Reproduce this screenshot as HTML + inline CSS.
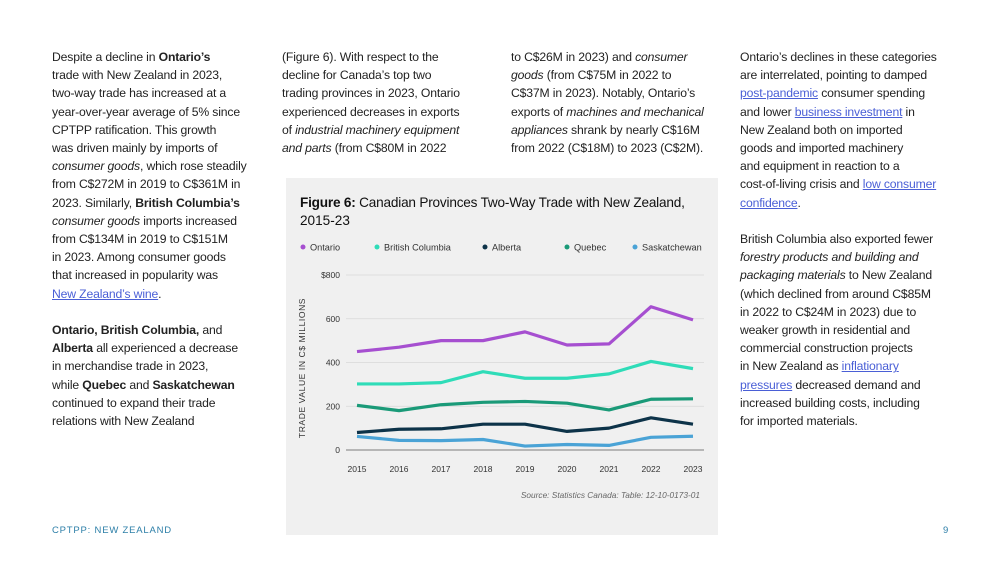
<!DOCTYPE html>
<html><head><meta charset="utf-8">
<style>
body{margin:0;width:1000px;height:563px;background:#fff;font-family:"Liberation Sans",sans-serif;color:#222;position:relative;overflow:hidden}
.col{position:absolute;top:48px;font-size:12.2px;line-height:18.2px;white-space:nowrap;letter-spacing:-0.15px}
.col p{margin:0 0 18.2px 0}
a{color:#4a5fd6;text-decoration:underline}
#panel{position:absolute;left:286px;top:178px;width:432px;height:357px;background:#f0f0f0}
.foot{position:absolute;top:525px;font-size:9.5px;color:#2d7fa8;letter-spacing:0.8px}
</style></head><body>
<div class="col" style="left:52px">
<p>Despite a decline in <b>Ontario’s</b><br>trade with New Zealand in 2023,<br>two-way trade has increased at a<br>year-over-year average of 5% since<br>CPTPP ratification. This growth<br>was driven mainly by imports of<br><i>consumer goods</i>, which rose steadily<br>from C$272M in 2019 to C$361M in<br>2023. Similarly, <b>British Columbia’s</b><br><i>consumer goods</i> imports increased<br>from C$134M in 2019 to C$151M<br>in 2023. Among consumer goods<br>that increased in popularity was<br><a>New Zealand’s wine</a>.</p>
<p><b>Ontario, British Columbia,</b> and<br><b>Alberta</b> all experienced a decrease<br>in merchandise trade in 2023,<br>while <b>Quebec</b> and <b>Saskatchewan</b><br>continued to expand their trade<br>relations with New Zealand</p>
</div>
<div class="col" style="left:282px">
<p>(Figure 6). With respect to the<br>decline for Canada’s top two<br>trading provinces in 2023, Ontario<br>experienced decreases in exports<br>of <i>industrial machinery equipment</i><br><i>and parts</i> (from C$80M in 2022</p></div>
<div class="col" style="left:511px">
<p>to C$26M in 2023) and <i>consumer</i><br><i>goods</i> (from C$75M in 2022 to<br>C$37M in 2023). Notably, Ontario’s<br>exports of <i>machines and mechanical</i><br><i>appliances</i> shrank by nearly C$16M<br>from 2022 (C$18M) to 2023 (C$2M).</p></div>
<div class="col" style="left:740px">
<p>Ontario’s declines in these categories<br>are interrelated, pointing to damped<br><a>post-pandemic</a> consumer spending<br>and lower <a>business investment</a> in<br>New Zealand both on imported<br>goods and imported machinery<br>and equipment in reaction to a<br>cost-of-living crisis and <a>low consumer<br>confidence</a>.</p>
<p>British Columbia also exported fewer<br><i>forestry products and building and</i><br><i>packaging materials</i> to New Zealand<br>(which declined from around C$85M<br>in 2022 to C$24M in 2023) due to<br>weaker growth in residential and<br>commercial construction projects<br>in New Zealand as <a>inflationary<br>pressures</a> decreased demand and<br>increased building costs, including<br>for imported materials.</p></div>
<div id="panel">
<svg id="chart" width="432" height="357"></svg>
</div>
<div class="foot" style="left:52px">CPTPP: NEW ZEALAND</div>
<div class="foot" style="left:943px">9</div>
<script>
const years=["2015","2016","2017","2018","2019","2020","2021","2022","2023"];
const seriesNames=["Ontario","British Columbia","Alberta","Quebec","Saskatchewan"];
const ontario=[450,470,500,500,540,480,485,655,595];
const britishColumbia=[302,302,308,358,328,328,348,405,372];
const alberta=[80,95,97,118,118,85,100,147,118];
const quebec=[204,180,207,218,222,214,183,232,234];
const saskatchewan=[62,44,43,48,18,25,21,58,63];
const yTicks=[0,200,400,600,800];
const yTickLabels=["0","200","400","600","$800"];
const colors=["#a64fd0","#2fdcb8","#0d3349","#1a9a78","#4aa3d6"];
const allSeries=[ontario,britishColumbia,alberta,quebec,saskatchewan];
const NS="http://www.w3.org/2000/svg",svg=document.getElementById('chart');
const x0=71,x1=407,yBase=272,yTop=97,yMax=800;
const xs=i=>x0+(x1-x0)*i/(years.length-1);
const ys=v=>yBase-(yBase-yTop)*v/yMax;
function mk(t,a,txt){const e=document.createElementNS(NS,t);for(const k in a)e.setAttribute(k,a[k]);if(txt!=null)e.textContent=txt;svg.appendChild(e);return e;}
let e=mk('text',{x:14,y:29,'font-size':13.6,fill:'#111','letter-spacing':'-0.2'});


e.innerHTML='<tspan font-weight="bold">Figure 6:</tspan> Canadian Provinces Two-Way Trade with New Zealand,';
e=mk('text',{x:14,y:47,'font-size':13.6,fill:'#111'},'2015-23');


const legX=[14,88,196,278,346];
seriesNames.forEach((n,i)=>{
 const g=mk('circle',{cx:legX[i]+3,cy:69,r:2.5,fill:colors[i]});
 
 
 const t=mk('text',{x:legX[i]+10,y:72.5,'font-size':9.2,fill:'#333'},n);
 
 
});
yTicks.forEach((v,i)=>{
 const l=mk('line',{x1:60,x2:418,y1:ys(v),y2:ys(v),stroke:v===0?'#555':'#d8d8d8','stroke-width':0.8});
 
 
 const t=mk('text',{x:54,y:ys(v)+3,'font-size':8.5,fill:'#333','text-anchor':'end'},yTickLabels[i]);
 
 
});
years.forEach((y,i)=>{
 const t=mk('text',{x:xs(i),y:294,'font-size':8.5,fill:'#333','text-anchor':'middle'},y);
 
 
});
e=mk('text',{transform:'translate(19,190) rotate(-90)','font-size':8.5,fill:'#333','text-anchor':'middle','letter-spacing':'0.6'},'TRADE VALUE IN C$ MILLIONS');


allSeries.forEach((s,k)=>{
 const p=mk('polyline',{points:s.map((v,i)=>xs(i)+','+ys(v)).join(' '),fill:'none',stroke:colors[k],'stroke-width':3.2,'stroke-linejoin':'round'});
 
 
});
e=mk('text',{x:414,y:320,'font-size':8.3,fill:'#666','font-style':'italic','text-anchor':'end'},'Source: Statistics Canada: Table: 12-10-0173-01');


</script>
</body></html>
